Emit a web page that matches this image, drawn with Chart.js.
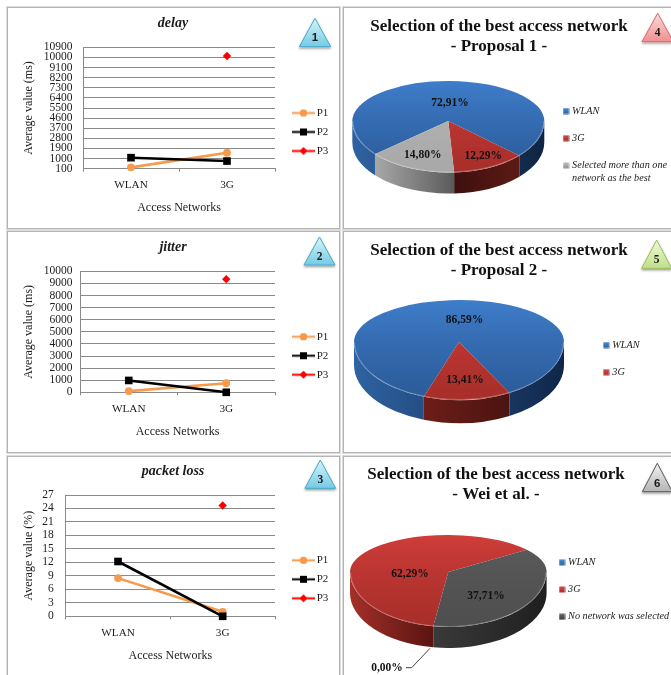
<!DOCTYPE html>
<html>
<head>
<meta charset="utf-8">
<title>Access network evaluation</title>
<script src="https://cdn.jsdelivr.net/npm/chart.js@4/dist/chart.umd.js"></script>
<style>
  html, body { margin: 0; padding: 0; background: #fff; width: 671px; height: 675px; overflow: hidden; }
  canvas { position: absolute; display: block; }
  .frame { position: absolute; box-sizing: border-box; border: 1px solid #b4b4b4; outline: 1px solid #dcdcdc; }
  svg { position: absolute; left: 0; top: 0; }
</style>
</head>
<body>
<div class="frame" style="left:7px;top:7px;width:333px;height:222px"></div>
<div class="frame" style="left:343px;top:7px;width:340px;height:222px"></div>
<div class="frame" style="left:7px;top:231px;width:333px;height:222px"></div>
<div class="frame" style="left:343px;top:231px;width:340px;height:222px"></div>
<div class="frame" style="left:7px;top:456px;width:333px;height:240px"></div>
<div class="frame" style="left:343px;top:456px;width:340px;height:240px"></div>
<canvas id="delay"></canvas>
<canvas id="jitter"></canvas>
<canvas id="loss"></canvas>
<canvas id="proposal1"></canvas>
<canvas id="proposal2"></canvas>
<canvas id="wei"></canvas>
<svg id="badges" width="671" height="675"></svg>
<script>
// Measured quality per access network
const categories = ['WLAN', '3G'];
const seriesNames = ['P1', 'P2', 'P3'];
const delayP1 = [220, 1520];
const delayP2 = [1080, 780];
const delayP3 = [null, 10130];
const jitterP1 = [100, 750];
const jitterP2 = [980, 0];
const jitterP3 = [null, 9350];
const lossP1 = [8.5, 1.0];
const lossP2 = [12.2, 0];
const lossP3 = [null, 24.65];

// Share of sessions per selected network
const proposal1Labels = ['WLAN', '3G', ['Selected more than one', 'network as the best']];
const proposal1Shares = [72.91, 12.29, 14.80];
const proposal2Labels = ['WLAN', '3G'];
const proposal2Shares = [86.59, 13.41];
const weiLabels = ['WLAN', '3G', 'No network was selected'];
const weiShares = [0, 62.29, 37.71];

const SERIF = "'Liberation Serif', serif";
const INK = '#1c1c1c';
const GRID = '#8a8a8a';
const seriesStyle = [
  { color: '#f79a4c', pointStyle: 'circle', radius: 3.9, lineWidth: 2.6, order: 3 },
  { color: '#000000', pointStyle: 'rect', radius: 5.4, lineWidth: 2.6, order: 2 },
  { color: '#ff0000', pointStyle: 'rectRot', radius: 4.2, lineWidth: 2.6, order: 1 }
];

// Moves the title and legend blocks to fixed spots once the layout has run
const placeBlocks = {
  id: 'placeBlocks',
  afterLayout(chart, args, opts) {
    const title = chart.titleBlock;
    if (title && opts.titleX !== undefined) {
      title.left = opts.titleX - 165;
      title.right = opts.titleX + 165;
      title.top = opts.titleY - title.options.font.size * title.options.font.lineHeight / 2;
    }
    const legend = chart.legend;
    if (legend && opts.legendX !== undefined) {
      const pad = legend.options.labels.padding;
      legend.left = opts.legendX - pad;
      legend.right = legend.left + 320;
      legend.top = opts.legendY - pad - legend.options.labels.font.size / 2;
      legend.bottom = legend.top + 300;
    }
  }
};

function lineKey(style) {
  const c = document.createElement('canvas');
  c.width = 23; c.height = 11;
  const g = c.getContext('2d');
  g.strokeStyle = style.color;
  g.fillStyle = style.color;
  g.lineWidth = 2;
  g.beginPath(); g.moveTo(0, 5.5); g.lineTo(23, 5.5); g.stroke();
  g.beginPath();
  Chart.helpers.drawPoint(g, {
    pointStyle: style.pointStyle,
    radius: style.radius * 0.92,
    rotation: 0,
    borderWidth: 0
  }, 11.5, 5.5);
  g.fill();
  return c;
}

function swatchKey(color) {
  const c = document.createElement('canvas');
  c.width = 7; c.height = 7;
  const g = c.getContext('2d');
  const fill = g.createLinearGradient(0, 0, 0, 7);
  fill.addColorStop(0, color[0]);
  fill.addColorStop(1, color[1]);
  g.fillStyle = fill;
  g.fillRect(0.5, 0.5, 6, 6);
  return c;
}

function drawLineChart(cfg) {
  const el = document.getElementById(cfg.id);
  const W = 340, H = cfg.height;
  el.width = W; el.height = H;
  el.style.left = '0px'; el.style.top = cfg.top + 'px';
  el.style.width = W + 'px'; el.style.height = H + 'px';
  const [L, R, T, B] = cfg.plot;
  const titleSize = 14;
  const titleH = titleSize * 1.2;
  new Chart(el, {
    type: 'line',
    data: {
      labels: categories,
      datasets: cfg.series.map((values, i) => ({
        label: seriesNames[i],
        data: values,
        borderColor: seriesStyle[i].color,
        backgroundColor: seriesStyle[i].color,
        borderWidth: seriesStyle[i].lineWidth,
        pointStyle: seriesStyle[i].pointStyle,
        pointRadius: seriesStyle[i].radius,
        pointBorderWidth: 0,
        pointBackgroundColor: seriesStyle[i].color,
        order: seriesStyle[i].order,
        tension: 0,
        clip: false
      }))
    },
    options: {
      responsive: false,
      animation: false,
      devicePixelRatio: 1,
      events: [],
      layout: { padding: { left: 0, right: W - R, top: T - cfg.top - titleH, bottom: H - (B - cfg.top) - 50 } },
      scales: {
        x: {
          offset: true,
          afterFit(scale) { scale.height = 50; },
          grid: { drawOnChartArea: false, offset: true, color: GRID, tickLength: 3 },
          border: { color: GRID },
          ticks: { font: { family: SERIF, size: 11.2 }, color: INK, padding: 7, maxRotation: 0 },
          title: {
            display: true, text: 'Access Networks', color: INK,
            font: { family: SERIF, size: 12 }, padding: { top: 0, bottom: 3.5 }
          }
        },
        y: {
          min: cfg.min, max: cfg.max,
          afterFit(scale) { scale.width = L; },
          grid: { color: GRID, drawTicks: false, lineWidth: 1 },
          border: { color: GRID },
          ticks: {
            stepSize: cfg.step, autoSkip: false, padding: cfg.tickPad, color: INK,
            font: { family: SERIF, size: 11.5, lineHeight: 1 },
            callback: v => String(v)
          },
          title: {
            display: true, text: cfg.yTitle, color: INK,
            font: { family: SERIF, size: 12 }, padding: { top: 22, bottom: 0 }
          }
        }
      },
      plugins: {
        tooltip: { enabled: false },
        title: {
          display: true, text: cfg.title, color: INK, padding: 0,
          font: { family: SERIF, size: titleSize, weight: 'bold', style: 'italic', lineHeight: 1.2 }
        },
        legend: {
          display: true, position: 'chartArea', align: 'start',
          labels: {
            usePointStyle: true, pointStyleWidth: 15.5, padding: 8, color: INK,
            font: { family: SERIF, size: 11 },
            generateLabels: chart => chart.data.datasets.map((d, i) => ({
              text: d.label, pointStyle: lineKey(seriesStyle[i]), datasetIndex: i, lineWidth: 0, hidden: false,
              fontColor: INK
            }))
          }
        },
        placeBlocks: { titleX: 173, titleY: cfg.titleY - cfg.top, legendX: 295.75, legendY: cfg.legendY - cfg.top }
      }
    },
    plugins: [placeBlocks]
  });
}

// Pie face foreshortened towards the back, with an extruded wall drawn under it.
// The part above the hub and the part below it use different vertical scales.
function faceTransform(ctx, arc, hubY, ry) {
  ctx.translate(arc.x, hubY);
  ctx.scale(1, ry / arc.outerRadius);
  ctx.translate(-arc.x, -arc.y);
}
function clipBand(ctx, chart, y0, y1) {
  ctx.beginPath();
  ctx.rect(0, y0, chart.width, y1 - y0);
  ctx.clip();
}

const pieDepth = {
  id: 'pieDepth',
  beforeDatasetsDraw(chart, args, o) {
    const ctx = chart.ctx;
    const arcs = chart.getDatasetMeta(0).data;
    const cx = arcs[0].x, rx = arcs[0].outerRadius, ry = o.ryFront, cy = o.hubY;
    arcs.forEach((arc, i) => {
      if (arc.endAngle - arc.startAngle <= 0) return;
      const parts = [];
      for (let k = -2; k <= 2; k++) {
        const a = Math.max(arc.startAngle, 2 * Math.PI * k);
        const b = Math.min(arc.endAngle, 2 * Math.PI * k + Math.PI);
        if (b > a) parts.push([a, b]);
      }
      if (!parts.length) return;
      let x0 = Infinity, x1 = -Infinity;
      parts.forEach(([a, b]) => {
        [a, b].forEach(t => {
          x0 = Math.min(x0, cx + rx * Math.cos(t));
          x1 = Math.max(x1, cx + rx * Math.cos(t));
        });
      });
      const fill = ctx.createLinearGradient(x0, 0, x1, 0);
      fill.addColorStop(0, o.wall[i][0]);
      fill.addColorStop(1, o.wall[i][1]);
      ctx.fillStyle = fill;
      parts.forEach(([a, b]) => {
        ctx.beginPath();
        ctx.ellipse(cx, cy, rx, ry, 0, a, b);
        ctx.ellipse(cx, cy + o.depth, rx, ry, 0, b, a, true);
        ctx.closePath();
        ctx.fill();
      });
    });
    ctx.save();
    clipBand(ctx, chart, 0, cy);
    faceTransform(ctx, arcs[0], cy, o.ryBack);
  },
  afterDatasetsDraw(chart, args, o) {
    const ctx = chart.ctx;
    ctx.restore();
    const meta = chart.getDatasetMeta(0);
    const arcs = meta.data;
    const cx = arcs[0].x, rx = arcs[0].outerRadius, cy = o.hubY;

    ctx.save();
    clipBand(ctx, chart, cy, chart.height);
    faceTransform(ctx, arcs[0], cy, o.ryFront);
    meta.controller.draw();
    ctx.restore();

    ctx.strokeStyle = 'rgba(255,255,255,0.28)';
    ctx.lineWidth = 1;
    ctx.beginPath();
    ctx.ellipse(cx, cy, rx - 0.5, o.ryFront - 0.5, 0, 0, Math.PI);
    ctx.stroke();

    ctx.fillStyle = '#111';
    ctx.font = "bold 11.5px 'Liberation Serif', serif";
    ctx.textAlign = 'center';
    ctx.textBaseline = 'middle';
    chart.data.datasets[0].data.forEach((v, i) => {
      const spot = o.labelSpots[i];
      if (!spot) return;
      ctx.fillText(v.toFixed(2).replace('.', ',') + '%', spot[0], spot[1]);
    });
    if (o.leader) {
      ctx.strokeStyle = '#444';
      ctx.lineWidth = 1;
      ctx.beginPath();
      o.leader.forEach(([x, y], i) => (i ? ctx.lineTo(x, y) : ctx.moveTo(x, y)));
      ctx.stroke();
    }
  }
};

function drawPieChart(cfg) {
  const el = document.getElementById(cfg.id);
  const left = 343;
  const W = 671 - left, H = cfg.height;
  el.width = W; el.height = H;
  el.style.left = left + 'px'; el.style.top = cfg.top + 'px';
  el.style.width = W + 'px'; el.style.height = H + 'px';
  const cx = cfg.centerX - left;
  const shift = p => [p[0] - left, p[1] - cfg.top];
  new Chart(el, {
    type: 'pie',
    data: {
      labels: cfg.labels,
      datasets: [{
        data: cfg.values,
        radius: cfg.radius,
        borderWidth: 0,
        clip: false,
        backgroundColor(c) {
          const pair = cfg.face[c.dataIndex];
          const area = c.chart.chartArea;
          const mid = area ? (area.top + area.bottom) / 2 : 100;
          const g = c.chart.ctx.createLinearGradient(0, mid - cfg.radius, 0, mid + cfg.radius);
          g.addColorStop(0, pair[0]);
          g.addColorStop(1, pair[1]);
          return g;
        }
      }]
    },
    options: {
      responsive: false,
      animation: false,
      devicePixelRatio: 1,
      events: [],
      rotation: cfg.rotation,
      layout: { padding: { left: cx - 100, right: W - cx - 100, top: 0, bottom: 0 } },
      plugins: {
        tooltip: { enabled: false },
        title: {
          display: true, text: cfg.title, color: '#111', padding: 0,
          font: { family: SERIF, size: 17, weight: 'bold', lineHeight: 1.18 }
        },
        legend: {
          display: true, position: 'chartArea', align: 'start',
          labels: {
            usePointStyle: true, pointStyleWidth: 2, padding: 17, color: '#222',
            font: { family: SERIF, size: 10.2, lineHeight: 1.27, style: 'italic' },
            generateLabels: chart => chart.data.labels.map((t, i) => ({
              text: t, pointStyle: swatchKey(cfg.key[i]), index: i, lineWidth: 0, hidden: false,
              fontColor: '#222'
            }))
          }
        },
        placeBlocks: {
          titleX: cfg.titleX - left, titleY: cfg.titleY - cfg.top,
          legendX: cfg.legendX - left, legendY: cfg.legendY - cfg.top
        },
        pieDepth: {
          hubY: cfg.hubY - cfg.top,
          ryBack: cfg.ryBack,
          ryFront: cfg.ryFront,
          depth: cfg.depth,
          wall: cfg.wall,
          labelSpots: cfg.labelSpots.map(s => s && shift(s)),
          leader: cfg.leader ? cfg.leader.map(shift) : null
        }
      }
    },
    plugins: [placeBlocks, pieDepth]
  });
}

drawLineChart({
  id: 'delay', title: 'delay', yTitle: 'Average value (ms)', top: 8, height: 222,
  plot: [83, 275, 47.3, 168.7], titleY: 23.3, legendY: 113, tickPad: 10.5,
  min: 100, max: 10900, step: 900, series: [delayP1, delayP2, delayP3]
});
drawLineChart({
  id: 'jitter', title: 'jitter', yTitle: 'Average value (ms)', top: 232, height: 222,
  plot: [80, 275, 271.3, 392.3], titleY: 247.7, legendY: 336.7, tickPad: 7.5,
  min: 0, max: 10000, step: 1000, series: [jitterP1, jitterP2, jitterP3]
});
drawLineChart({
  id: 'loss', title: 'packet loss', yTitle: 'Average value (%)', top: 457, height: 218,
  plot: [65.7, 275, 495, 616.3], titleY: 471.7, legendY: 560.3, tickPad: 12,
  min: 0, max: 27, step: 3, series: [lossP1, lossP2, lossP3]
});

const BLUE_FACE = ['#3f7dca', '#2a5a98'];
const RED_FACE = ['#cf3d39', '#a62e2a'];
const BLUE_KEY = ['#4f8fd8', '#2a5a98'];
const RED_KEY = ['#d84c48', '#a62e2a'];

drawPieChart({
  id: 'proposal1', top: 8, height: 222, labels: proposal1Labels, values: proposal1Shares,
  title: ['Selection of the best access network', '- Proposal 1 -'], titleX: 499, titleY: 27,
  centerX: 448.3, hubY: 121, radius: 96, ryBack: 40, ryFront: 51.5, depth: 21, rotation: -130.2,
  face: [BLUE_FACE, RED_FACE, ['#b6b6b6', '#a8a8a8']],
  wall: [['#2f63a2', '#0f2442'], ['#3d100d', '#5e1a15'], ['#a8a8a8', '#5a5a5a']],
  key: [BLUE_KEY, RED_KEY, ['#c4c4c4', '#8a8a8a']],
  labelSpots: [[450, 103], [483.3, 156], [422.7, 155]],
  legendX: 565, legendY: 111
});
drawPieChart({
  id: 'proposal2', top: 232, height: 222, labels: proposal2Labels, values: proposal2Shares,
  title: ['Selection of the best access network', '- Proposal 2 -'], titleX: 499, titleY: 251,
  centerX: 459, hubY: 342, radius: 105, ryBack: 42, ryFront: 58, depth: 23, rotation: -160.4,
  face: [BLUE_FACE, RED_FACE],
  wall: [['#2f63a2', '#10264a'], ['#6e1d18', '#4b1411']],
  key: [BLUE_KEY, RED_KEY],
  labelSpots: [[464.5, 320], [465, 380]],
  legendX: 605.2, legendY: 345
});
drawPieChart({
  id: 'wei', top: 457, height: 218, labels: weiLabels, values: weiShares,
  title: ['Selection of the best access network', '- Wei et al. -'], titleX: 496, titleY: 475,
  centerX: 448.3, hubY: 572, radius: 98.3, ryBack: 37, ryFront: 55, depth: 21, rotation: 188.8,
  face: [BLUE_FACE, RED_FACE, ['#5c5c5c', '#4e4e4e']],
  wall: [['#2f63a2', '#10264a'], ['#a33028', '#5a1411'], ['#3a3a3a', '#1f1f1f']],
  key: [BLUE_KEY, RED_KEY, ['#666666', '#3c3c3c']],
  labelSpots: [[387, 667.7], [410, 574], [486, 596]],
  legendX: 561, legendY: 562.3,
  leader: [[406, 667.7], [411.7, 667.7], [430, 648.3]]
});

// Numbered corner markers
const badges = [
  { n: '1', apex: [315, 18.3], base: 46.7, half: 15.7, top: '#d9f4fb', low: '#74cbe4', edge: '#46a9c8', font: 'Liberation Sans', ty: 37 },
  { n: '2', apex: [319.5, 237], base: 265, half: 15.5, top: '#d9f4fb', low: '#74cbe4', edge: '#46a9c8', font: 'Liberation Serif', ty: 256 },
  { n: '3', apex: [320.3, 460], base: 488.3, half: 15.4, top: '#d9f4fb', low: '#74cbe4', edge: '#46a9c8', font: 'Liberation Serif', ty: 478.5 },
  { n: '4', apex: [657.7, 13.3], base: 41.7, half: 15.7, top: '#fbdcdc', low: '#ef8f8f', edge: '#d96a6a', font: 'Liberation Serif', ty: 32 },
  { n: '5', apex: [656.7, 240], base: 268.3, half: 15, top: '#f0fbd6', low: '#bfe08a', edge: '#9bbb59', font: 'Liberation Serif', ty: 258.5 },
  { n: '6', apex: [657.3, 463.3], base: 491.7, half: 15, top: '#f2f2f2', low: '#b4b4b4', edge: '#5a5a5a', font: 'Liberation Sans', ty: 482.5 }
];
const NS = 'http://www.w3.org/2000/svg';
const svg = document.getElementById('badges');
const make = (name, attrs, parent) => {
  const node = document.createElementNS(NS, name);
  Object.entries(attrs).forEach(([k, v]) => node.setAttribute(k, v));
  parent.appendChild(node);
  return node;
};
const defs = make('defs', {}, svg);
const soft = make('filter', { id: 'drop', x: '-30%', y: '-30%', width: '160%', height: '170%' }, defs);
make('feDropShadow', { dx: 0, dy: 1.5, stdDeviation: 1.1, 'flood-color': '#000', 'flood-opacity': 0.4 }, soft);
badges.forEach(b => {
  const grad = make('linearGradient', { id: 'g' + b.n, x1: 0, y1: 0, x2: 0, y2: 1 }, defs);
  make('stop', { offset: '0', 'stop-color': b.top }, grad);
  make('stop', { offset: '1', 'stop-color': b.low }, grad);
  const [ax, ay] = b.apex;
  make('polygon', {
    points: `${ax},${ay} ${ax - b.half},${b.base} ${ax + b.half},${b.base}`,
    fill: `url(#g${b.n})`, stroke: b.edge, 'stroke-width': 1, filter: 'url(#drop)'
  }, svg);
  const label = make('text', {
    x: ax, y: b.ty, 'text-anchor': 'middle', 'dominant-baseline': 'central',
    'font-family': b.font, 'font-weight': 'bold', 'font-size': 11.5, fill: '#1a1a1a'
  }, svg);
  label.textContent = b.n;
});
</script>
</body>
</html>
